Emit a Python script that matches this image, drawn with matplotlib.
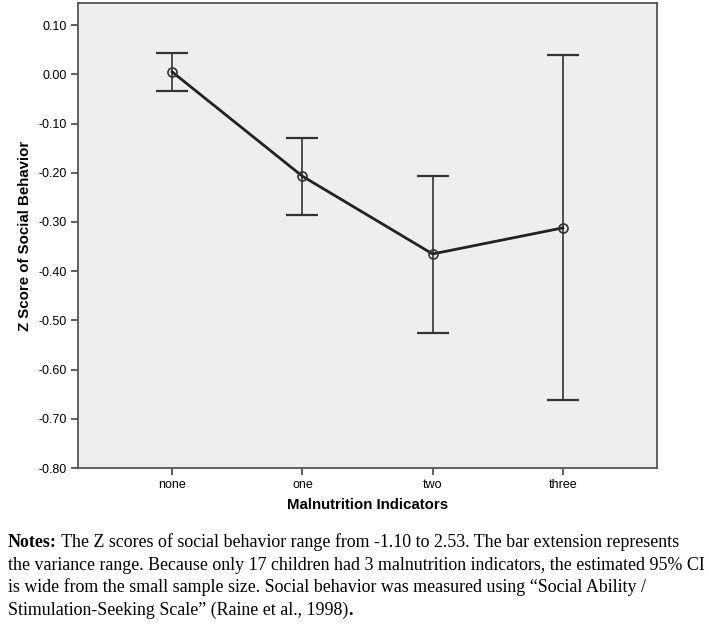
import numpy as np
import matplotlib
matplotlib.use('Agg')
import matplotlib.pyplot as plt

plt.rcParams['font.family'] = ['Liberation Sans', 'DejaVu Sans']

# data
groups = ['none', 'one', 'two', 'three']
z_mean = [0.005, -0.207, -0.365, -0.312]
ci_low = [-0.033, -0.285, -0.525, -0.662]
ci_high = [0.043, -0.130, -0.207, 0.040]
y_ticks = [0.10, 0.00, -0.10, -0.20, -0.30, -0.40, -0.50, -0.60, -0.70, -0.80]

notes_head = 'Notes:'
notes_lines = [
    ' The Z scores of social behavior range from -1.10 to 2.53. The bar extension represents',
    'the variance range. Because only 17 children had 3 malnutrition indicators, the estimated 95% CI',
    'is wide from the small sample size. Social behavior was measured using \u201cSocial Ability /',
    'Stimulation-Seeking Scale\u201d (Raine et al., 1998)',
]

fig = plt.figure(figsize=(7.09, 6.24), dpi=100)
ax = fig.add_axes((78/709, 1-468/624, (657-78)/709, (468-3)/624))
ax.set_facecolor('#eeeeee')

x = np.arange(len(groups))
mean = np.array(z_mean)
yerr = [mean - np.array(ci_low), np.array(ci_high) - mean]
ax.errorbar(x, mean, yerr=yerr, fmt='none', ecolor='#333333', elinewidth=1.2,
            capsize=11.5, capthick=1.6)
ax.plot(x, mean, color='#222222', lw=2.0, marker='o', ms=6.5, mfc='none',
        mec='#333333', mew=1.2)

ax.set_xlim(-0.723, 3.723)
ax.set_ylim(-0.80, 0.145)
ax.set_xticks(x)
ax.set_xticklabels(groups)
ax.set_yticks(y_ticks)
ax.set_yticklabels(['%.2f' % v for v in y_ticks])
ax.tick_params(direction='out', length=5, width=1.2, color='#444444',
               labelsize=9, pad=3)

for s in ax.spines.values():
    s.set_color('#555555')
    s.set_linewidth(1.3)

ax.set_xlabel('Malnutrition Indicators', fontsize=10.8, fontweight='bold', labelpad=5)
ax.set_ylabel('Z Score of Social Behavior', fontsize=10.8, fontweight='bold', labelpad=5)

# notes underneath
serif = 'Liberation Serif'
fs = 12.9
baselines = [547, 569.5, 592, 615]
head = fig.text(8/709, 1-baselines[0]/624, notes_head, fontsize=fs, fontweight='bold',
                va='baseline', ha='left', family=serif)
fig.canvas.draw()
bb = head.get_window_extent()
fig.text(bb.x1/709, 1-baselines[0]/624, notes_lines[0], fontsize=fs,
         va='baseline', ha='left', family=serif)
for line, yb in zip(notes_lines[1:], baselines[1:]):
    t = fig.text(8/709, 1-yb/624, line, fontsize=fs, va='baseline', ha='left', family=serif)
fig.canvas.draw()
bb = t.get_window_extent()
fig.text(bb.x1/709, 1-baselines[-1]/624, '.', fontsize=fs, fontweight='bold',
         va='baseline', ha='left', family=serif)

fig.savefig('out.png', dpi=100)
